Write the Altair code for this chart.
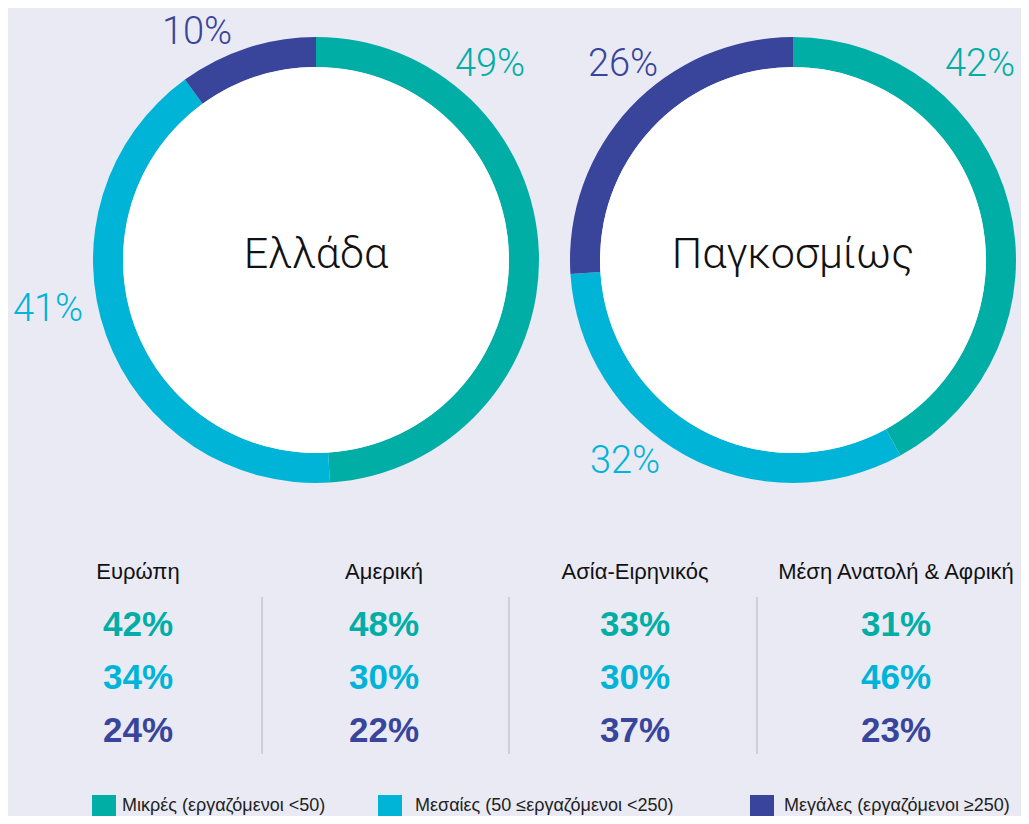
import math
import altair as alt
import pandas as pd

# ---------------- data ----------------
categories = ["Μικρές", "Μεσαίες", "Μεγάλες"]
legend_labels = ["Μικρές (εργαζόμενοι <50)",
                 "Μεσαίες (50 ≤εργαζόμενοι <250)",
                 "Μεγάλες (εργαζόμενοι ≥250)"]
donut_names = ["Ελλάδα", "Παγκοσμίως"]
greece = [49, 41, 10]
worldwide = [42, 32, 26]
regions = ["Ευρώπη", "Αμερική", "Ασία-Ειρηνικός", "Μέση Ανατολή & Αφρική"]
small = [42, 48, 33, 31]
medium = [34, 30, 30, 46]
large = [24, 22, 37, 23]

# ---------------- style / layout ----------------
colors = ["#00AEA6", "#00B4D8", "#39449B"]
BG = "#EAEAF4"
W, H = 1013, 808
OFF = 8  # page margin
donut_centers = [(316, 260), (793, 260)]
R_OUT, R_IN = 223, 193
# label anchor positions (page px) for each donut's three labels
donut_label_pos = [[(490, 65), (48, 310), (197, 33)],
                   [(980, 65), (625, 462), (623, 65)]]
region_x = [138, 384, 635, 896]
header_y = 572
row_y = [625, 678, 731]
sep_x = [262, 509, 757]
sep_y = (597, 754)
legend_sq_x = [92, 378, 750]
legend_txt_x = [122, 415, 784]
legend_y = (795, 816)
legend_txt_y = 806

xs = alt.Scale(domain=[OFF, W + OFF], range=[0, W], nice=False, zero=False)
ys = alt.Scale(domain=[OFF, H + OFF], range=[0, H], nice=False, zero=False)
cs = alt.Scale(domain=categories, range=colors)

layers = []

# donuts
for d, (name, vals) in enumerate(zip(donut_names, [greece, worldwide])):
    cx, cy = donut_centers[d]
    df = pd.DataFrame({"cat": categories, "value": vals, "order": [0, 1, 2]})
    ring = alt.Chart(df).mark_arc(innerRadius=R_IN, outerRadius=R_OUT).encode(
        theta=alt.Theta("value:Q", stack=True, scale=alt.Scale(domain=[0, 100])),
        color=alt.Color("cat:N", scale=cs, legend=None),
        order=alt.Order("order:Q"),
        x=alt.value(cx - OFF),
        y=alt.value(cy - OFF),
    )
    hole = alt.Chart(pd.DataFrame({"n": [name]})).mark_arc(
        innerRadius=0, outerRadius=R_IN, theta=0, theta2=2 * math.pi, color="white"
    ).encode(x=alt.value(cx - OFF), y=alt.value(cy - OFF))
    title = alt.Chart(pd.DataFrame({"n": [name], "x": [cx], "y": [cy - 5]})).mark_text(
        font="Roboto", fontWeight=300, fontSize=43, color="#111111", baseline="middle"
    ).encode(x=alt.X("x:Q", scale=xs, axis=None), y=alt.Y("y:Q", scale=ys, axis=None), text="n:N")
    lp = donut_label_pos[d]
    ldf = pd.DataFrame({
        "cat": categories,
        "txt": [f"{v}%" for v in vals],
        "x": [p[0] for p in lp],
        "y": [p[1] for p in lp],
    })
    labels = alt.Chart(ldf).mark_text(
        font="Roboto", fontWeight=300, fontSize=38, baseline="middle"
    ).encode(
        x=alt.X("x:Q", scale=xs, axis=None),
        y=alt.Y("y:Q", scale=ys, axis=None),
        text="txt:N",
        color=alt.Color("cat:N", scale=cs, legend=None),
    )
    layers += [ring, hole, title, labels]

# region headers
hdf = pd.DataFrame({"region": regions, "x": region_x, "y": [header_y] * 4})
layers.append(alt.Chart(hdf).mark_text(
    font="Liberation Sans", fontSize=22, color="#111111", baseline="middle"
).encode(x=alt.X("x:Q", scale=xs, axis=None), y=alt.Y("y:Q", scale=ys, axis=None), text="region:N"))

# separators
sdf = pd.DataFrame({"x": sep_x, "y": [sep_y[0]] * 3, "y2": [sep_y[1]] * 3})
layers.append(alt.Chart(sdf).mark_rule(color="#C6C6CE", strokeWidth=1.5).encode(
    x=alt.X("x:Q", scale=xs, axis=None), y=alt.Y("y:Q", scale=ys, axis=None), y2="y2:Q"))

# region values
rows = []
for i, r in enumerate(regions):
    for j, (cat, series) in enumerate(zip(categories, [small, medium, large])):
        rows.append({"cat": cat, "txt": f"{series[i]}%", "x": region_x[i], "y": row_y[j]})
vdf = pd.DataFrame(rows)
layers.append(alt.Chart(vdf).mark_text(
    font="Liberation Sans", fontWeight="bold", fontSize=35, baseline="middle"
).encode(
    x=alt.X("x:Q", scale=xs, axis=None), y=alt.Y("y:Q", scale=ys, axis=None),
    text="txt:N", color=alt.Color("cat:N", scale=cs, legend=None)))

# legend
ldf = pd.DataFrame({"cat": categories, "label": legend_labels,
                    "x": legend_sq_x, "x2": [v + 24 for v in legend_sq_x],
                    "y": [legend_y[0]] * 3, "y2": [legend_y[1]] * 3,
                    "tx": legend_txt_x, "ty": [legend_txt_y] * 3})
layers.append(alt.Chart(ldf).mark_rect().encode(
    x=alt.X("x:Q", scale=xs, axis=None), x2="x2:Q",
    y=alt.Y("y:Q", scale=ys, axis=None), y2="y2:Q",
    color=alt.Color("cat:N", scale=cs, legend=None)))
layers.append(alt.Chart(ldf).mark_text(
    font="Liberation Sans", fontSize=18, align="left",
    baseline="middle", color="#222222"
).encode(x=alt.X("tx:Q", scale=xs, axis=None), y=alt.Y("ty:Q", scale=ys, axis=None), text="label:N"))

chart = alt.layer(*layers).properties(
    width=W, height=H, background=BG, padding=0,
    autosize=alt.AutoSizeParams(type="none"),
).configure_view(stroke=None)

chart.save("out.html", embed_options={"renderer": "svg", "actions": False})
